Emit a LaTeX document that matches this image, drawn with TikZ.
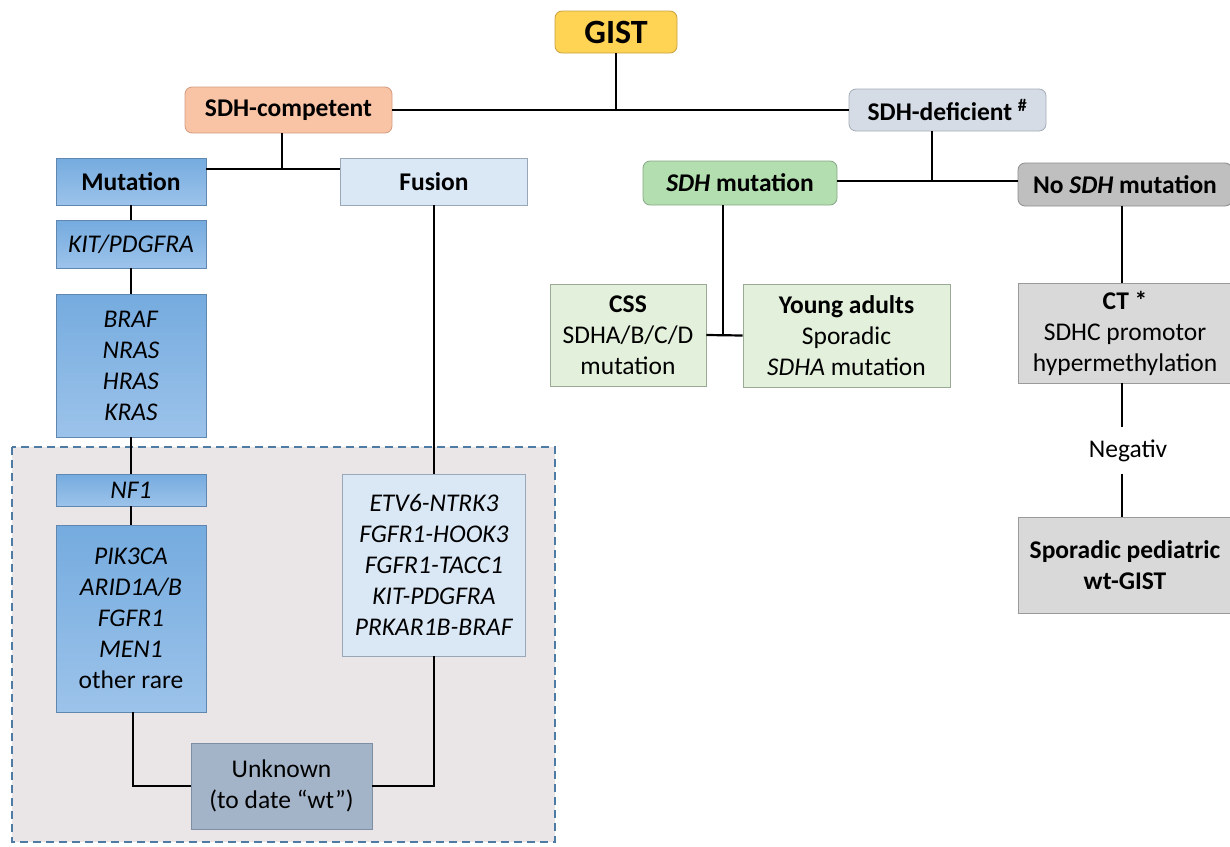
\documentclass[tikz,border=0pt]{standalone}
\usepackage{fontspec}
\setmainfont{Carlito}
\definecolor{goldf}{HTML}{FFD353}
\definecolor{goldd}{HTML}{C9A042}
\definecolor{peachf}{HTML}{F9C3A5}
\definecolor{peachd}{HTML}{D49C80}
\definecolor{slatef}{HTML}{D6DCE5}
\definecolor{slated}{HTML}{A4ACB6}
\definecolor{bluet}{HTML}{75ABDF}
\definecolor{blueb}{HTML}{9CC3EA}
\definecolor{blued}{HTML}{5F87B0}
\definecolor{lbluef}{HTML}{DAE7F5}
\definecolor{lblued}{HTML}{98A8B8}
\definecolor{unkf}{HTML}{A4B4C8}
\definecolor{unkd}{HTML}{7F8FA3}
\definecolor{greenf}{HTML}{B3DEAF}
\definecolor{greend}{HTML}{86A884}
\definecolor{lgreenf}{HTML}{E3F0DB}
\definecolor{lgreend}{HTML}{9AAA94}
\definecolor{dgreyf}{HTML}{BFBFBF}
\definecolor{dgreyd}{HTML}{8C8C8C}
\definecolor{lgreyf}{HTML}{D9D9D9}
\definecolor{lgreyd}{HTML}{9A9A9A}
\definecolor{areaf}{HTML}{EAE6E8}
\definecolor{aread}{HTML}{4D7BA3}
\newcommand\diafs{\fontsize{25.5}{31}\selectfont}
\newcommand\gistfs{\fontsize{34}{40}\selectfont}
\begin{document}
\begin{tikzpicture}[x=1pt,y=-1pt,
  base/.style={draw, line width=0.8pt, align=center, inner sep=0pt, font=\diafs},
  wh/.style 2 args={minimum width=#1, minimum height=#2},
  goldbox/.style={base, rounded corners=7pt, fill=goldf, draw=goldd, font=\gistfs},
  peachbox/.style={base, rounded corners=7pt, fill=peachf, draw=peachd},
  slatebox/.style={base, rounded corners=7pt, fill=slatef, draw=slated},
  bluebox/.style={base, top color=bluet, bottom color=blueb, draw=blued},
  lbluebox/.style={base, fill=lbluef, draw=lblued},
  unkbox/.style={base, fill=unkf, draw=unkd},
  greenbox/.style={base, rounded corners=7pt, fill=greenf, draw=greend},
  lgreenbox/.style={base, fill=lgreenf, draw=lgreend},
  dgreybox/.style={base, rounded corners=7pt, fill=dgreyf, draw=dgreyd},
  lgreybox/.style={base, fill=lgreyf, draw=lgreyd},
  plaintext/.style={align=center, inner sep=0pt, font=\diafs},
  conn/.style={line width=2.2pt, black},
  area/.style={dash pattern=on 8pt off 5pt, line width=1.5pt, draw=aread, fill=areaf}]
\useasboundingbox (0,0) rectangle (1230,846);
\begin{scope}
\clip (0,0) rectangle (1230,846);
\draw[area] (12,447) rectangle (555,842);

\node[goldbox, wh={122}{42}] (gist) at (616,32) {\textbf{GIST}};
\node[peachbox, wh={207}{46}] (comp) at (288.5,110) {\textbf{SDH-competent}};
\node[slatebox, wh={197}{42}] (def) at (947.5,110) {\textbf{SDH-deficient \textsuperscript{\#}}};
\node[bluebox, wh={150}{47}] (mut) at (131,181.5) {\textbf{Mutation}};
\node[lbluebox, wh={187}{47}] (fus) at (434,181.5) {\textbf{Fusion}};
\node[bluebox, wh={150}{48}] (kit) at (131,244) {\textit{KIT/PDGFRA}};
\node[bluebox, wh={150}{143}] (braf) at (131,365.5) {\textit{BRAF}\\\textit{NRAS}\\\textit{HRAS}\\\textit{KRAS}};
\node[bluebox, wh={150}{32}] (nf1) at (131,490) {\textit{NF1}};
\node[bluebox, wh={150}{187}] (pik) at (131,618.5) {\textit{PIK3CA}\\\textit{ARID1A/B}\\\textit{FGFR1}\\\textit{MEN1}\\other rare};
\node[lbluebox, wh={183}{182}] (fl) at (434,565) {\textit{ETV6-NTRK3}\\\textit{FGFR1-HOOK3}\\\textit{FGFR1-TACC1}\\\textit{KIT-PDGFRA}\\\textit{PRKAR1B-BRAF}};
\node[unkbox, wh={181}{86}] (unk) at (281.5,786) {Unknown\\(to date “wt”)};
\node[greenbox, wh={194}{44}] (sm) at (740,183) {\textbf{\textit{SDH} mutation}};
\node[dgreybox, wh={214}{43}] (nosdh) at (1125,184.5) {\textbf{No \textit{SDH} mutation}};
\node[lgreenbox, wh={156}{102}] (css) at (628,335) {\textbf{CSS}\\SDHA/B/C/D\\mutation};
\node[lgreenbox, wh={207}{103}] (young) at (846.5,335.5) {\textbf{Young adults}\\Sporadic\\\textit{SDHA} mutation};
\node[lgreybox, wh={214}{100}] (ct) at (1125,333) {\textbf{CT *}\\SDHC promotor\\hypermethylation};
\node[plaintext, wh={80}{47}] (neg) at (1128,450.5) {Negativ};
\node[lgreybox, wh={214}{96}] (spor) at (1125,565) {\textbf{Sporadic pediatric}\\\textbf{wt-GIST}};

\coordinate (j1) at (282,169);
\coordinate (j2) at (932,181);
\coordinate (j3) at (1122,0);

\draw[conn] (gist.south) -- (gist.south |- comp.east);
\draw[conn] (comp.east) -- (def.west);
\draw[conn] (j1 |- comp.south) -- (j1);
\draw[conn] (mut.east |- j1) -- (fus.west |- j1);
\draw[conn] (mut.south) -- (kit.north);
\draw[conn] (kit.south) -- (braf.north);
\draw[conn] (braf.south) -- (nf1.north);
\draw[conn] (nf1.south) -- (pik.north);
\draw[conn] (fus.south) -- (fl.north);
\draw[conn] ([xshift=2pt]pik.south) -- ([xshift=2pt]pik.south |- unk.west) -- (unk.west);
\draw[conn] (unk.east) -- (fl.south |- unk.east) -- (fl.south);
\draw[conn] (j2 |- def.south) -- (j2);
\draw[conn] (sm.east |- j2) -- (nosdh.west |- j2);
\draw[conn] ([xshift=-17pt]sm.south) -- ([xshift=-17pt]sm.south |- css.east);
\draw[conn] (css.east) -- (young.west);
\draw[conn] (j3 |- nosdh.south) -- (j3 |- ct.north);
\draw[conn] (j3 |- ct.south) -- (j3 |- neg.north);
\draw[conn] (j3 |- neg.south) -- (j3 |- spor.north);
\end{scope}
\end{tikzpicture}
\end{document}
